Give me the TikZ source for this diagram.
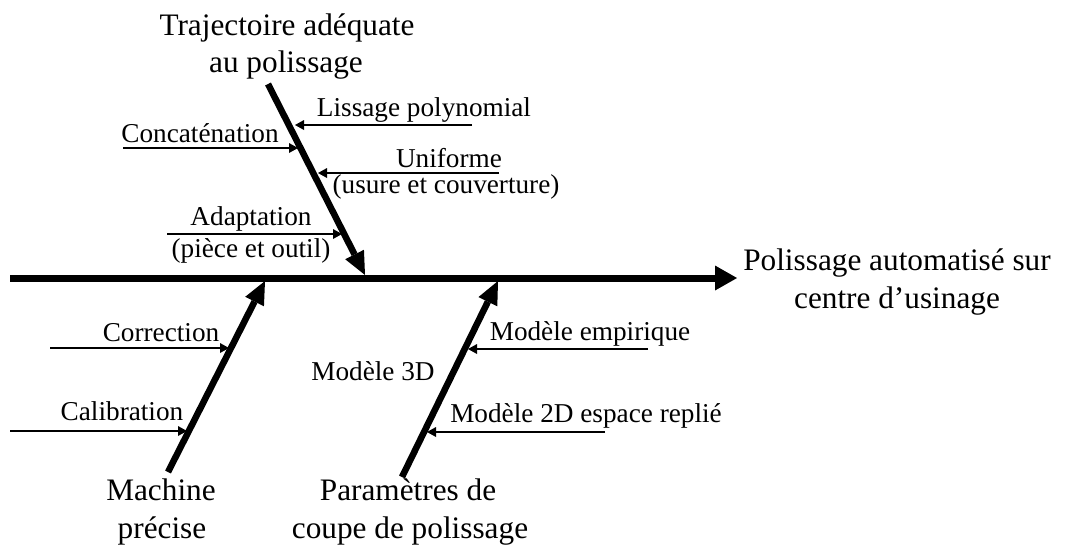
\documentclass[tikz,border=0pt]{standalone}
\usepackage{fontspec}
\setmainfont{Liberation Serif}
\usetikzlibrary{arrows.meta}

\begin{document}
\begin{tikzpicture}[
    x=0.02cm,
    y=-0.02cm,
    big_text/.style={
        font=\fontsize{17.8}{21}\selectfont,
        anchor=base,
        inner sep=0pt
    },
    small_text/.style={
        font=\fontsize{15.5}{18}\selectfont,
        anchor=base,
        inner sep=0pt
    },
    spine/.style = {draw, line width=0.14cm, -{Triangle[length=0.44cm, width=0.5cm, line width=0pt]}},
    bone/.style = {draw, line width=0.13cm, -{Triangle[length=0.46cm, width=0.42cm, line width=0pt]}},
    twig/.style = {draw, line width=0.055cm, -{Triangle[length=0.18cm, width=0.2cm, line width=0pt]}}
]
    \useasboundingbox (0,0) rectangle (1081,549);
    % points des arêtes
    \coordinate (spine_start) at (10,278);
    \coordinate (spine_end) at (737,278);
    \coordinate (traj_start) at (268,84);
    \coordinate (traj_end) at (365,275);
    \coordinate (mach_start) at (168,472);
    \coordinate (mach_end) at (265,281);
    \coordinate (param_start) at (402,477);
    \coordinate (param_end) at (498,281);
    \coordinate (lissage_a) at (472,125);
    \coordinate (lissage_b) at (295,125);
    \coordinate (concat_a) at (123,148);
    \coordinate (concat_b) at (298,148);
    \coordinate (unif_a) at (499,173);
    \coordinate (unif_b) at (318,173);
    \coordinate (adapt_a) at (167,234);
    \coordinate (adapt_b) at (342,234);
    \coordinate (corr_a) at (50,348);
    \coordinate (corr_b) at (229,348);
    \coordinate (calib_a) at (10,431);
    \coordinate (calib_b) at (187,431);
    \coordinate (empir_a) at (648,349);
    \coordinate (empir_b) at (468,349);
    \coordinate (mod2d_a) at (605,432);
    \coordinate (mod2d_b) at (427,432);
    % textes
    \node [big_text] (effect) at (897,270) {Polissage automatisé sur};
    \node [big_text] (effect_2) at (897,308) {centre d’usinage};
    \node [big_text] (traj) at (287,35) {Trajectoire adéquate};
    \node [big_text] (traj_2) at (286,72) {au polissage};
    \node [big_text] (mach) at (161,500) {Machine};
    \node [big_text] (mach_2) at (162,538) {précise};
    \node [big_text] (param) at (408,500) {Paramètres de};
    \node [big_text] (param_2) at (410,538) {coupe de polissage};
    \node [small_text] (lissage) at (424,116) {Lissage polynomial};
    \node [small_text] (concat) at (200,142) {Concaténation};
    \node [small_text] (unif) at (449,167) {Uniforme};
    \node [small_text] (unif_2) at (446,193) {(usure et couverture)};
    \node [small_text] (adapt) at (251,225) {Adaptation};
    \node [small_text] (adapt_2) at (251,257) {(pièce et outil)};
    \node [small_text] (corr) at (161,341) {Correction};
    \node [small_text] (calib) at (122,420) {Calibration};
    \node [small_text] (empir) at (590,340) {Modèle empirique};
    \node [small_text] (mod3d) at (373,380) {Modèle 3D};
    \node [small_text] (mod2d) at (586,422) {Modèle 2D espace replié};
    % flèches
    \draw [spine] (spine_start) -- (spine_end);
    \draw [bone] (traj_start) -- (traj_end);
    \draw [bone] (mach_start) -- (mach_end);
    \draw [bone] (param_start) -- (param_end);
    \draw [twig] (lissage_a) -- (lissage_b);
    \draw [twig] (concat_a) -- (concat_b);
    \draw [twig] (unif_a) -- (unif_b);
    \draw [twig] (adapt_a) -- (adapt_b);
    \draw [twig] (corr_a) -- (corr_b);
    \draw [twig] (calib_a) -- (calib_b);
    \draw [twig] (empir_a) -- (empir_b);
    \draw [twig] (mod2d_a) -- (mod2d_b);
\end{tikzpicture}
\end{document}
